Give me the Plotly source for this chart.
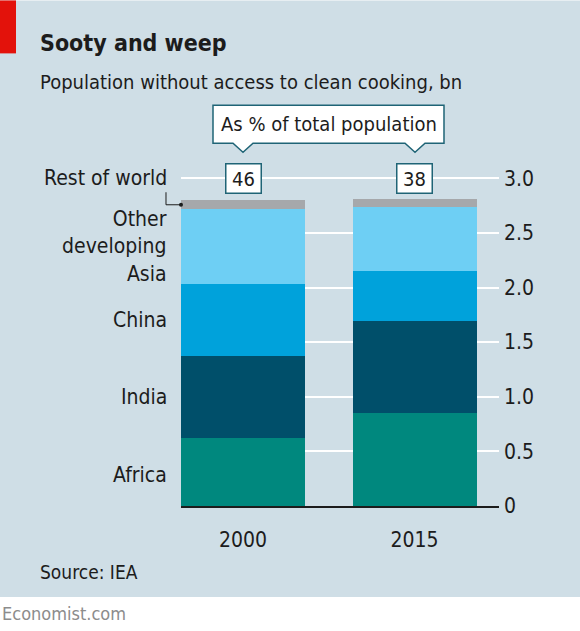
import plotly.graph_objects as go

# ---- data ----
years = ["2000", "2015"]
regions = ["Africa", "India", "China", "Other developing Asia", "Rest of world"]
africa = [0.625, 0.85]
india = [0.75, 0.84]
china = [0.66, 0.46]
other_asia = [0.68, 0.585]
rest_world = [0.085, 0.075]
pct_of_total = ["46", "38"]
y_ticks = [0, 0.5, 1.0, 1.5, 2.0, 2.5, 3.0]
y_ticktext = ["0", "0.5", "1.0", "1.5", "2.0", "2.5", "3.0"]

series = [africa, india, china, other_asia, rest_world]
colors = ["#00887e", "#004f6a", "#00a2db", "#6ecff4", "#a6a8ab"]

# ---- layout geometry ----
W, H = 580, 631
YMAX = 3.03
L, R, B = 181, 81, 125
T = 178 - (YMAX - 3.0) * 328 / 3.0
PW, PH = W - L - R, H - T - B
BG = "#cfdee6"
TXT = "#1c1c1c"
EDGE = "#1f6476"
FONT = "DejaVu Sans Condensed, DejaVu Sans, sans-serif"


def px(x):
    return (x - L) / PW


def py(y):
    return (H - B - y) / PH


xpos = list(range(len(years)))
fig = go.Figure()
for name, vals, col in zip(regions, series, colors):
    fig.add_trace(go.Bar(
        x=xpos, y=vals, name=name, marker=dict(color=col, line=dict(width=0)),
        width=0.723, hoverinfo="skip",
    ))

shapes = []
shapes.append(dict(type="rect", xref="paper", yref="paper", x0=px(0), x1=px(W), y0=py(597), y1=py(0),
                   fillcolor=BG, line=dict(width=0), layer="below"))
shapes.append(dict(type="rect", xref="paper", yref="paper", x0=px(0), x1=px(16), y0=py(53), y1=py(0),
                   fillcolor="#e3120b", line=dict(width=0), layer="below"))


def P(x, y):
    return f"{px(x):.5f},{py(y):.5f}"


bx0, bx1, by0, by1 = 213, 444, 105, 143
c0, c1 = 243, 415
hw, tip = 10, 152
path = ("M " + P(bx0, by0) + " L " + P(bx1, by0) + " L " + P(bx1, by1) +
        " L " + P(c1 + hw, by1) + " L " + P(c1, tip) + " L " + P(c1 - hw, by1) +
        " L " + P(c0 + hw, by1) + " L " + P(c0, tip) + " L " + P(c0 - hw, by1) +
        " L " + P(bx0, by1) + " Z")
shapes.append(dict(type="path", xref="paper", yref="paper", path=path,
                   fillcolor="white", line=dict(color=EDGE, width=1.5)))

rest_mid = africa[0] + india[0] + china[0] + other_asia[0] + rest_world[0] / 2
yr = (H - B) - rest_mid * PH / YMAX
shapes.append(dict(type="path", xref="paper", yref="paper",
                   path="M " + P(166, 192) + " L " + P(166, yr) + " L " + P(L, yr),
                   line=dict(color=TXT, width=1)))
shapes.append(dict(type="circle", xref="paper", yref="paper",
                   x0=px(L - 2), x1=px(L + 2), y0=py(yr + 2), y1=py(yr - 2),
                   fillcolor=TXT, line=dict(width=0)))

annotations = []
annotations.append(dict(xref="paper", yref="paper", x=px(38), y=py(43), xanchor="left", yanchor="middle",
                        text="<b>Sooty and weep</b>", showarrow=False,
                        font=dict(family=FONT, size=23, color=TXT)))
annotations.append(dict(xref="paper", yref="paper", x=px(38), y=py(82), xanchor="left", yanchor="middle",
                        text="Population without access to clean cooking, bn", showarrow=False,
                        font=dict(family=FONT, size=20, color=TXT)))
annotations.append(dict(xref="paper", yref="paper", x=px((bx0 + bx1) / 2), y=py((by0 + by1) / 2),
                        xanchor="center", yanchor="middle", text="As % of total population",
                        showarrow=False, font=dict(family=FONT, size=20, color=TXT)))
for i, t in enumerate(pct_of_total):
    annotations.append(dict(xref="x", yref="y", x=xpos[i], y=3.0, xanchor="center", yanchor="middle",
                            text=t, showarrow=False, bgcolor="white", bordercolor=EDGE, borderwidth=1.5,
                            borderpad=3, width=28, height=22,
                            font=dict(family=FONT, size=20, color=TXT)))

labels = ["Africa", "India", "China", "Other<br>developing<br>Asia"]
offsets = [-0.03, 0.0, 0.0, 0.0]
base = 0.0
for lab, vals, off in zip(labels, series[:4], offsets):
    mid = base + vals[0] / 2 + off
    base += vals[0]
    annotations.append(dict(xref="paper", yref="y", x=px(169), y=mid, xanchor="right", yanchor="middle",
                            text=lab, showarrow=False, align="right",
                            font=dict(family=FONT, size=21, color=TXT)))
annotations.append(dict(xref="paper", yref="y", x=px(169), y=3.0, xanchor="right", yanchor="middle",
                        text="Rest of world", showarrow=False,
                        font=dict(family=FONT, size=21, color=TXT)))

annotations.append(dict(xref="paper", yref="paper", x=px(38), y=py(572), xanchor="left", yanchor="middle",
                        text="Source: IEA", showarrow=False, font=dict(family=FONT, size=19, color=TXT)))
annotations.append(dict(xref="paper", yref="paper", x=px(0), y=py(614), xanchor="left", yanchor="middle",
                        text="Economist.com", showarrow=False, font=dict(family=FONT, size=18, color="#8c8c8c")))

fig.update_layout(
    width=W, height=H, margin=dict(l=L, r=R, t=T, b=B, pad=0),
    paper_bgcolor="white", plot_bgcolor="rgba(0,0,0,0)",
    barmode="stack", bargap=0, showlegend=False,
    shapes=shapes, annotations=annotations,
    xaxis=dict(range=[-0.3615, 1.4927], tickvals=xpos, ticktext=years, ticks="", showgrid=False,
               zeroline=False, showline=True, linecolor=TXT, linewidth=1.5,
               tickfont=dict(family=FONT, size=21, color=TXT), ticklabelstandoff=14, fixedrange=True),
    yaxis=dict(range=[0, YMAX], side="right", tickvals=y_ticks, ticktext=y_ticktext, ticks="",
               showgrid=True, gridcolor="white", gridwidth=2, zeroline=False, showline=False,
               tickfont=dict(family=FONT, size=21, color=TXT), ticklabelstandoff=4, fixedrange=True),
)

fig.write_html("out.html", config={"displayModeBar": False})
